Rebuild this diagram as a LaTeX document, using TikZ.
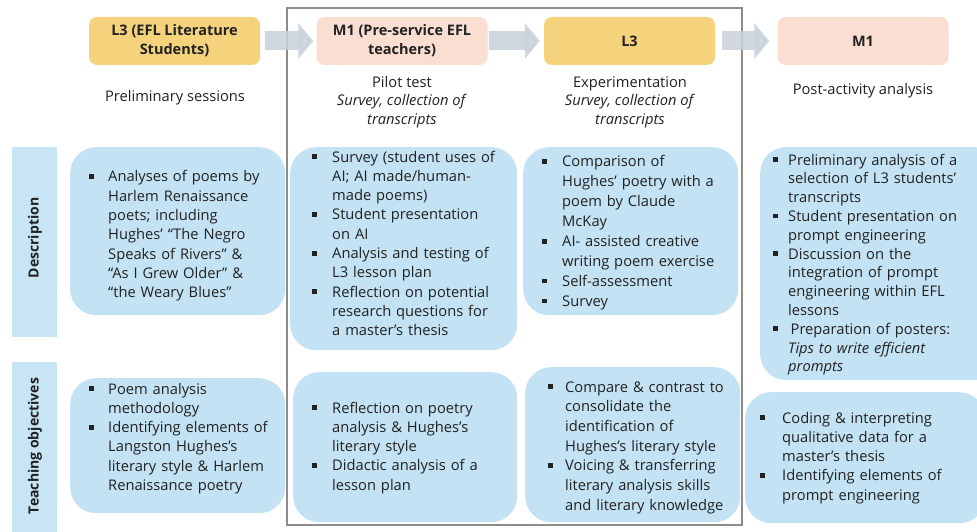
\documentclass[tikz,border=0pt]{standalone}
\usepackage{fontspec}
\setmainfont{Open Sans}
\usetikzlibrary{arrows.meta}
\definecolor{hdrY}{HTML}{F5D27C}
\definecolor{hdrP}{HTML}{FADED2}
\definecolor{cboxc}{HTML}{C3E2F3}
\definecolor{sidec}{HTML}{C8E5F5}
\definecolor{arrc}{HTML}{C8D1DA}
\definecolor{framec}{HTML}{8C8C8C}
\definecolor{txtc}{HTML}{222222}
\newcommand{\itm}[2][20pt]{\noindent\hangindent=#1\hangafter=1\makebox[#1][l]{\rule[3pt]{4.8pt}{4.8pt}}\begingroup\let\\\newline #2\par\endgroup}
\newcommand{\bodyf}{\fontsize{14.7}{19.3}\selectfont}
\tikzset{
  hdr/.style={rounded corners=8pt, minimum width=171pt, minimum height=48pt, inner sep=0pt, align=center, font=\fontsize{14.5}{19}\selectfont\bfseries, text=txtc},
  cbx/.style={fill=cboxc, rounded corners=26pt, anchor=north west, inner sep=0pt},
  sidebox/.style={fill=sidec, anchor=north west, inner sep=0pt, minimum width=45pt},
  sidetxt/.style={rotate=90, font=\fontsize{14}{16}\selectfont\bfseries, text=txtc},
  lst/.style={anchor=base west, inner sep=0pt, text width=240pt, font=\bodyf, text=txtc},
  sub/.style={align=center, font=\fontsize{14.7}{18.5}\selectfont, text=txtc, inner sep=0pt},
  flow/.style={draw=arrc, line width=19pt, opacity=0.85, -{Triangle[length=15pt,width=35pt]}}
}
\begin{document}
\begin{tikzpicture}[x=1pt,y=-1pt]
\useasboundingbox (0,0) rectangle (977,532);
\fill[white] (0,0) rectangle (977,532);
% frame
\node[draw=framec, line width=1.5pt, minimum width=455pt, minimum height=517pt, inner sep=0pt] (frm) at (514.5,266.5) {};
% headers
\node[hdr, fill=hdrY] (h1) at (174.5,41) {L3 (EFL Literature\\Students)};
\node[hdr, fill=hdrP] (h2) at (402,41) {M1 (Pre-service EFL\\teachers)};
\node[hdr, fill=hdrY] (h3) at (629.5,41) {L3};
\node[hdr, fill=hdrP] (h4) at (863,41) {M1};
\draw[flow] ([xshift=5pt]h1.east) -- ([xshift=-3pt]h2.west);
\draw[flow] ([xshift=1pt]h2.east) -- ([xshift=-4pt]h3.west);
\draw[flow] ([xshift=7pt]h3.east) -- ([xshift=-8pt]h4.west);
% sub labels
\node[sub] (s1) at (175,98) {Preliminary sessions};
\node[sub] (s2) at (402,102) {Pilot test\\\textit{Survey, collection of}\\\textit{transcripts}};
\node[sub] (s3) at (630,102) {Experimentation\\\textit{Survey, collection of}\\\textit{transcripts}};
\node[sub] (s4) at (863,91) {Post-activity analysis};
% side labels
\node[sidebox, minimum height=190pt] (sd1) at (12,147) {};
\node[sidetxt] (sd1t) at (35,238) {Description};
\node[sidebox, minimum height=175pt] (sd2) at (12,362) {};
\node[sidetxt] (sd2t) at (35,446) {Teaching objectives};
% content boxes row 1
\node[cbx, minimum width=215pt, minimum height=168pt] (bA) at (70,147) {};
\node[cbx, minimum width=227pt, minimum height=203pt] (bB) at (290,147) {};
\node[cbx, minimum width=215pt, minimum height=168pt] (bC) at (523,147) {};
\node[cbx, minimum width=240pt, minimum height=233pt] (bD) at (760,147) {};
% row 2
\node[cbx, minimum width=215pt, minimum height=135pt] (bE) at (70,378) {};
\node[cbx, minimum width=224pt, minimum height=150pt] (bF) at (293,372) {};
\node[cbx, minimum width=215pt, minimum height=155pt] (bG) at (525,367) {};
\node[cbx, minimum width=240pt, minimum height=131pt] (bH) at (745,392) {};
% texts
\node[lst] (tA) at (89,182) {\itm[19pt]{Analyses of poems by\\Harlem Renaissance\\poets; including\\Hughes’ “The Negro\\Speaks of Rivers” \&\\“As I Grew Older” \&\\“the Weary Blues”}};
\node[lst] (tB) at (312,162) {\itm{Survey (student uses of\\AI; AI made/human-\\made poems)}
\itm{Student presentation\\on AI}
\itm{Analysis and testing of\\L3 lesson plan}
\itm{Reflection on potential\\research questions for\\a master’s thesis}};
\node[lst, font=\fontsize{14.7}{19.9}\selectfont] (tC) at (542,167) {\itm{Comparison of\\Hughes’ poetry with a\\poem by Claude\\McKay}
\itm{AI- assisted creative\\writing poem exercise}
\itm{Self-assessment}
\itm{Survey}};
\node[lst, font=\fontsize{14.7}{18.8}\selectfont] (tD) at (773,165) {\itm[15pt]{Preliminary analysis of a\\selection of L3 students’\\transcripts}
\itm[15pt]{Student presentation on\\prompt engineering}
\itm[15pt]{Discussion on the\\integration of prompt\\engineering within EFL\\lessons}
\itm[15pt]{\,Preparation of posters:\\\textit{Tips to write efficient}\\\textit{prompts}}};
\node[lst] (tE) at (89,394) {\itm[19pt]{Poem analysis\\methodology}
\itm[19pt]{Identifying elements of\\Langston Hughes’s\\literary style \& Harlem\\Renaissance poetry}};
\node[lst] (tF) at (312,413) {\itm{Reflection on poetry\\analysis \& Hughes’s\\literary style}
\itm{Didactic analysis of a\\lesson plan}};
\node[lst, font=\fontsize{14.7}{19.7}\selectfont] (tG) at (548,392) {\itm[17pt]{Compare \& contrast to\\consolidate the\\identification of\\Hughes’s literary style}
\itm[17pt]{Voicing \& transferring\\literary analysis skills\\and literary knowledge}};
\node[lst] (tH) at (760,423) {\itm[22pt]{Coding \& interpreting\\qualitative data for a\\master’s thesis}
\itm[22pt]{Identifying elements of\\prompt engineering}};
\end{tikzpicture}
\end{document}
